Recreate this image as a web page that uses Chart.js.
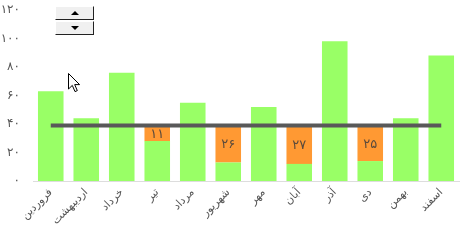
<!DOCTYPE html>
<html>
<head>
<meta charset="utf-8">
<script src="https://cdn.jsdelivr.net/npm/chart.js@4"></script>
<style>
  html, body { margin: 0; padding: 0; background: #fff; }
  #wrap { position: relative; width: 467px; height: 246px; }
  #c { position: absolute; left: 0; top: 0; }
  .spin { position: absolute; left: 55px; top: 6px; width: 39px; height: 29px; }
  .btn { position: absolute; left: 0; width: 37px; height: 12px; background: #f0f0f0;
         border-top: 1px solid #fff; border-left: 1px solid #fff;
         border-right: 1px solid #222; border-bottom: 1px solid #222; }
  .btn.up { top: 0; }
  .btn.dn { top: 15px; }
  .tri { position: absolute; left: 15px; width: 0; height: 0;
         border-left: 4px solid transparent; border-right: 4px solid transparent; }
  .up .tri { top: 4px; border-bottom: 4px solid #000; }
  .dn .tri { top: 4px; border-top: 4px solid #000; }
  #cur { position: absolute; left: 68px; top: 73px; }
</style>
</head>
<body>
<div id="wrap">
  <canvas id="c" width="467" height="246"></canvas>
  <div class="spin">
    <div class="btn up"><div class="tri"></div></div>
    <div class="btn dn"><div class="tri"></div></div>
  </div>
  <svg id="cur" width="14" height="21" viewBox="0 0 14 21">
    <path d="M0.5 0.5 L0.5 16 L4.3 12.4 L7 18.6 L9.3 17.6 L6.7 11.6 L11.6 11.6 Z" fill="#fff" stroke="#000" stroke-width="1"/>
  </svg>
</div>
<script>
const categories = ['فروردین','اردیبهشت','خرداد','تیر','مرداد','شهریور','مهر','آبان','آذر','دی','بهمن','اسفند'];
const greenValues = [63, 44, 76, 28, 55, 13, 52, 12, 98, 14, 44, 88];
const orangeValues = [null, null, null, 11, null, 26, null, 27, null, 25, null, null];
const targetValues = [39, 39, 39, 39, 39, 39, 39, 39, 39, 39, 39, 39];
const yTicks = [0, 20, 40, 60, 80, 100, 120];

const faDigits = '۰۱۲۳۴۵۶۷۸۹';
function toFa(n) { return String(n).replace(/[0-9]/g, d => faDigits[+d]); }

const FONT = '"DejaVu Sans", Tahoma, sans-serif';

const barLabels = {
  id: 'barLabels',
  afterDatasetsDraw(chart) {
    const ctx = chart.ctx;
    const meta = chart.getDatasetMeta(2);
    ctx.save();
    ctx.font = '13px ' + FONT;
    ctx.fillStyle = '#5a4a3c';
    ctx.textAlign = 'center';
    ctx.textBaseline = 'middle';
    meta.data.forEach((el, i) => {
      const v = orangeValues[i];
      if (v == null) return;
      const p = el.getProps(['x', 'y', 'base'], true);
      ctx.fillText(toFa(v), p.x, (p.y + p.base) / 2 + 1);
    });
    ctx.restore();
  }
};

new Chart(document.getElementById('c'), {
  data: {
    labels: categories,
    datasets: [
      { type: 'line', data: targetValues, borderColor: '#595959', borderWidth: 4,
        pointRadius: 0, fill: false, order: 0, stack: 'line' },
      { type: 'bar', data: greenValues, backgroundColor: '#99ff66', order: 1, stack: 's' },
      { type: 'bar', data: orangeValues, backgroundColor: '#ff9933', order: 1, stack: 's' }
    ]
  },
  options: {
    responsive: false,
    animation: false,
    layout: { padding: { top: 0, right: 8, left: 0, bottom: 0 } },
    plugins: { legend: { display: false }, tooltip: { enabled: false } },
    scales: {
      x: {
        stacked: true,
        grid: { display: false, drawTicks: false },
        border: { display: true, color: '#dddddd', width: 1 },
        categoryPercentage: 0.68,
        barPercentage: 1,
        ticks: { autoSkip: false, minRotation: 45, maxRotation: 45, padding: 5,
                 color: '#555', font: { family: FONT, size: 11 } },
        afterFit(s) { s.height = 65; }
      },
      y: {
        stacked: true,
        min: 0, max: 120,
        grid: { display: false, drawTicks: false },
        border: { display: false },
        afterBuildTicks(s) { s.ticks = yTicks.map(v => ({ value: v })); },
        ticks: { padding: 13, color: '#555', font: { family: FONT, size: 12 },
                 callback: v => toFa(v) },
        afterFit(s) { s.width = 33; s.paddingTop = 10; s.paddingBottom = 6; }
      }
    }
  },
  plugins: [barLabels]
});
</script>
</body>
</html>
